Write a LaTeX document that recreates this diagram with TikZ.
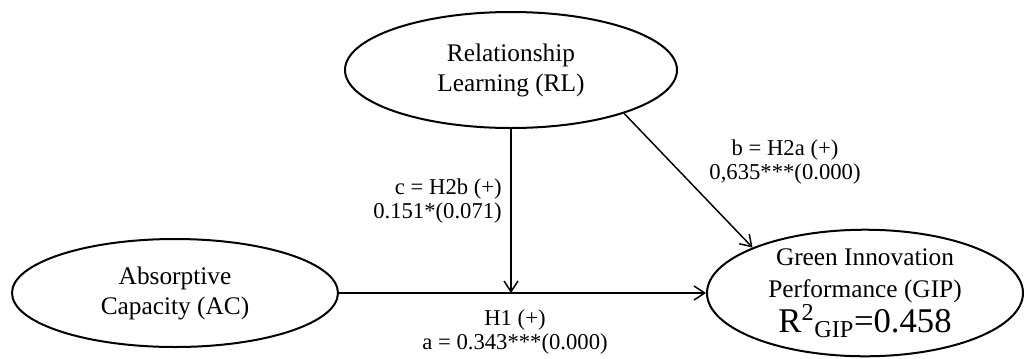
\documentclass[tikz,border=0pt]{standalone}
\usepackage{fontspec}
\setmainfont{Liberation Serif}
\usetikzlibrary{shapes.geometric,arrows.meta}

\tikzset{
  latent/.style={ellipse, draw, line width=1.5pt, inner sep=0pt, align=center,
    font=\fontsize{19}{22.5}\selectfont},
  effect/.style={line width=1.1pt,
    -{Straight Barb[length=8pt,width=10.5pt,line width=1.1pt]}},
  coef/.style={align=center, inner sep=0pt, font=\fontsize{17}{18}\selectfont}
}

\begin{document}
\begin{tikzpicture}[x=0.75pt, y=-0.75pt]
    \useasboundingbox (0,0) rectangle (1028,358);

    % constructs
    \node[latent, minimum width=249pt, minimum height=87pt] (rl) at (511,70)
      {Relationship\\Learning (RL)};
    \node[latent, minimum width=244.5pt, minimum height=81pt] (ac) at (175,293)
      {Absorptive\\Capacity (AC)};
    \node[latent, minimum width=237pt, minimum height=93.75pt,
      font=\fontsize{19}{24.5}\selectfont] (gip) at (865,293)
      {Green Innovation\\Performance (GIP)\\
       {\fontsize{26}{26}\selectfont R\textsuperscript{2}\textsubscript{GIP}=0.458}};

    % paths
    \coordinate (mod) at (rl |- ac);
    \draw[effect] (ac.east) -- (gip.west);
    \draw[effect] (rl.south) -- (mod);
    \draw[effect] (rl.-21) -- (gip.158);

    % coefficients
    \node[coef, anchor=east, align=right] (lc) at (502,201)
      {c = H2b (+)\\0.151*(0.071)};
    \node[coef] (lb) at (785,162) {b = H2a (+)\\0,635***(0.000)};
    \node[coef] (la) at (515,332) {H1 (+)\\a = 0.343***(0.000)};
\end{tikzpicture}
\end{document}
